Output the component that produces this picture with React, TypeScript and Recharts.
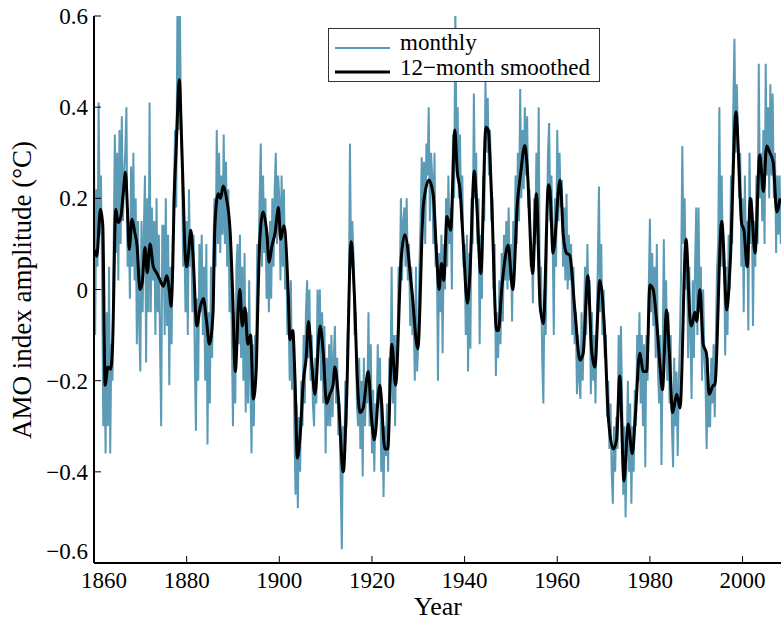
import { Line, LineChart, XAxis, YAxis } from "recharts";

// quarterly samples of the monthly AMO index, starting 1860.0
const MONTHLY_START = 1860;
const MONTHLY_STEP = 0.25;

const monthly1860s = [
  0.3, -0.1, 0.22, 0.05, 0.41, 0.12, 0.25, 0.02, -0.3, -0.12, -0.36, -0.05, -0.3, 0.05, -0.36, -0.12,
  -0.2, 0.1, 0.34, 0.08, 0.3, 0.02, 0.35, 0.1, 0.38, 0.15, 0.25, 0.3, 0.4, 0.05, 0.15, -0.02,
  0.27, 0.05, 0.3, 0.02, 0.2, -0.12, 0.15, -0.08,
];
const monthly1870s = [
  -0.18, 0.15, -0.05, 0.12, 0.25, -0.16, 0.2, -0.05, 0.41, -0.05, 0.18, 0.02, 0.15, -0.1, 0.2, -0.05,
  0.12, -0.12, -0.3, 0.14, 0.14, -0.1, 0.2, -0.08, 0.12, -0.21, 0.05, -0.12, 0.1, 0.22, 0.35, 0.18,
  0.6, 0.35, 0.65, 0.4, 0.28, 0.05, 0.12, -0.05,
];
const monthly1880s = [
  0.15, -0.1, 0.22, 0.05, 0.1, -0.05, 0.12, -0.15, -0.31, -0.02, -0.2, 0.1, -0.05, 0.12, -0.1, 0.05,
  -0.2, 0.1, -0.34, -0.05, -0.25, 0.05, -0.15, 0.08, 0.2, 0.05, 0.35, 0.1, 0.3, 0.08, 0.25, 0.12,
  0.34, 0.1, 0.28, 0.05, 0.22, -0.05, 0.1, -0.1,
];
const monthly1890s = [
  -0.3, -0.05, -0.25, 0.05, 0.1, -0.12, 0.12, -0.15, 0.05, -0.2, 0.08, -0.27, -0.05, -0.25, 0.02, -0.2,
  -0.36, -0.12, -0.3, -0.1, -0.15, 0.1, 0.05, 0.2, 0.32, 0.05, 0.25, 0.08, 0.2, -0.02, 0.12, -0.05,
  0.15, -0.02, 0.2, 0.05, 0.22, 0.3, 0.1, 0.25,
];
const monthly1900s = [
  0.2, 0.02, 0.25, 0.05, 0.22, 0.0, 0.08, -0.1, -0.05, -0.2, 0.02, -0.22, -0.1, -0.3, -0.45, -0.25,
  -0.48, -0.28, -0.4, -0.2, -0.3, -0.1, -0.25, -0.05, 0.02, -0.15, 0.0, -0.2, -0.1, -0.25, -0.3, -0.15,
  -0.25, 0.0, -0.12, 0.0, -0.2, -0.05, -0.25, -0.08,
];
const monthly1910s = [
  -0.36, -0.15, -0.3, -0.12, -0.3, -0.1, -0.28, -0.15, -0.08, -0.25, -0.15, -0.32, -0.25, -0.43, -0.57, -0.3,
  -0.4, -0.2, -0.3, -0.1, -0.05, 0.32, 0.05, 0.15, 0.08, -0.1, -0.05, -0.25, -0.3, -0.15, -0.35, -0.2,
  -0.41, -0.15, -0.3, -0.2, -0.25, -0.05, -0.3, -0.12,
];
const monthly1920s = [
  -0.36, -0.22, -0.4, -0.25, -0.3, -0.12, -0.25, -0.15, -0.4, -0.25, -0.455, -0.3, -0.365, -0.25, -0.4, -0.15,
  -0.2, 0.05, -0.25, -0.1, -0.3, -0.1, -0.15, 0.05, 0.0, 0.2, 0.02, 0.15, 0.18, 0.05, 0.2, 0.02,
  0.1, -0.08, 0.05, -0.1, -0.05, -0.2, 0.05, -0.18,
];
const monthly1930s = [
  -0.12, 0.05, 0.15, 0.29, 0.15, 0.28, 0.1, 0.32, 0.25, 0.4, 0.15, 0.3, 0.25, 0.1, 0.3, 0.05,
  0.1, -0.2, 0.08, -0.05, 0.12, -0.14, 0.1, 0.0, 0.2, 0.05, 0.25, 0.1, 0.18, 0.0, 0.34, 0.2,
  0.62, 0.3, 0.4, 0.2, 0.34, 0.15, 0.25, 0.05,
];
const monthly1940s = [
  0.1, -0.1, 0.12, -0.18, 0.08, -0.13, 0.2, 0.1, 0.43, 0.2, 0.3, 0.1, 0.2, -0.12, 0.12, -0.02,
  0.25, 0.15, 0.46, 0.3, 0.42, 0.25, 0.35, 0.15, 0.2, 0.0, 0.1, -0.19, -0.05, -0.15, 0.02, -0.12,
  0.08, -0.07, 0.12, 0.02, 0.15, 0.0, 0.18, 0.02,
];
const monthly1950s = [
  0.1, -0.07, 0.15, 0.05, 0.25, 0.1, 0.3, 0.15, 0.44, 0.2, 0.35, 0.22, 0.4, 0.25, 0.38, 0.18,
  0.22, 0.05, 0.1, -0.03, 0.2, 0.1, 0.3, 0.12, 0.4, -0.05, 0.05, -0.15, -0.25, 0.0, -0.1, 0.1,
  0.3, 0.365, 0.15, 0.25, 0.12, -0.1, 0.2, 0.05,
];
const monthly1960s = [
  0.35, 0.15, 0.3, 0.18, 0.24, 0.05, 0.18, 0.02, 0.21, 0.0, 0.12, 0.02, 0.1, -0.1, 0.05, -0.12,
  -0.05, -0.23, -0.1, -0.2, -0.24, -0.05, -0.2, -0.08, 0.05, -0.1, 0.1, -0.03, 0.02, -0.23, -0.05, -0.2,
  -0.1, -0.25, -0.08, 0.05, 0.226, -0.05, 0.1, -0.1,
];
const monthly1970s = [
  0.0, -0.15, -0.1, -0.28, -0.2, -0.35, -0.25, -0.4, -0.47, -0.3, -0.4, -0.28, -0.35, -0.1, -0.25, -0.08,
  -0.25, -0.45, -0.3, -0.5, -0.35, -0.2, -0.4, -0.25, -0.47, -0.3, -0.4, -0.22, -0.3, -0.1, -0.2, -0.05,
  -0.25, -0.1, -0.3, -0.12, -0.39, -0.1, -0.2, 0.0,
];
const monthly1980s = [
  0.155, -0.05, 0.08, -0.08, 0.05, -0.15, 0.1, -0.18, -0.25, -0.1, -0.385, -0.15, 0.11, -0.1, 0.02, -0.2,
  -0.05, -0.25, -0.1, -0.3, -0.39, -0.15, -0.3, -0.18, -0.365, -0.2, -0.1, 0.05, 0.315, 0.1, 0.2, 0.0,
  0.1, -0.15, 0.05, -0.1, -0.24, 0.02, -0.15, 0.05,
];
const monthly1990s = [
  0.18, -0.1, 0.18, -0.05, 0.05, -0.2, 0.0, -0.15, -0.2, -0.35, -0.15, -0.3, -0.3, -0.15, -0.25, -0.12,
  -0.28, -0.1, 0.05, 0.1, 0.4, 0.05, 0.25, 0.05, 0.1, -0.145, 0.05, -0.1, 0.12, 0.0, 0.25, 0.1,
  0.4, 0.55, 0.3, 0.45, 0.34, 0.2, 0.3, 0.05,
];
const monthly2000s = [
  0.2, -0.05, 0.25, 0.05, 0.15, -0.09, 0.3, 0.1, 0.2, -0.08, 0.15, 0.05, 0.25, 0.1, 0.495, 0.2,
  0.3, 0.15, 0.35, 0.1, 0.495, 0.25, 0.4, 0.2, 0.45, 0.25, 0.43, 0.2, 0.3, 0.08, 0.25, 0.12,
  0.25, 0.1,
];

// 12-month smoothed curve: [year, value]
const smoothedPoints: [number, number][] = [
  [1860.0, 0.088], [1860.6, 0.073], [1861.4, 0.176], [1861.9, 0.14], [1862.4, -0.21], [1863.0, -0.17],
  [1863.6, -0.175], [1864.0, -0.125], [1864.7, 0.176], [1865.2, 0.147], [1865.8, 0.16], [1866.3, 0.21],
  [1866.8, 0.257], [1867.2, 0.18], [1867.6, 0.088], [1868.2, 0.154], [1868.8, 0.125], [1869.3, 0.095],
  [1869.9, 0.0], [1870.4, 0.015], [1871.0, 0.092], [1871.5, 0.037], [1872.1, 0.1], [1872.8, 0.05],
  [1873.5, 0.037], [1874.2, 0.022], [1875.0, 0.007], [1875.7, 0.03], [1876.3, -0.007], [1876.6, -0.037],
  [1877.0, 0.05], [1877.3, 0.2], [1877.7, 0.3], [1878.0, 0.38], [1878.4, 0.46], [1878.9, 0.33],
  [1879.3, 0.2], [1879.6, 0.095], [1880.0, 0.05], [1880.4, 0.08], [1880.9, 0.13], [1881.4, 0.07],
  [1882.2, -0.08], [1882.9, -0.04], [1883.6, -0.02], [1884.3, -0.07], [1884.9, -0.12], [1885.7, -0.05],
  [1885.9, 0.05], [1886.1, 0.14], [1886.8, 0.21], [1887.3, 0.2], [1887.9, 0.227], [1888.6, 0.2],
  [1889.4, 0.125], [1889.9, 0.0], [1890.5, -0.18], [1891.2, -0.03], [1891.5, 0.0], [1892.0, -0.08],
  [1892.6, -0.04], [1893.2, -0.12], [1893.8, -0.1], [1894.4, -0.24], [1895.0, -0.18], [1895.4, -0.02],
  [1895.8, 0.11], [1896.5, 0.17], [1897.3, 0.125], [1897.8, 0.06], [1898.4, 0.095], [1899.1, 0.125],
  [1899.8, 0.18], [1900.3, 0.11], [1901.0, 0.14], [1901.9, 0.0], [1902.3, -0.11], [1902.9, -0.09],
  [1903.4, -0.2], [1903.9, -0.37], [1904.5, -0.32], [1905.2, -0.2], [1905.8, -0.15], [1906.3, -0.07],
  [1907.0, -0.16], [1907.7, -0.23], [1908.8, -0.08], [1909.5, -0.14], [1910.2, -0.25], [1910.9, -0.23],
  [1911.6, -0.21], [1912.0, -0.17], [1912.7, -0.23], [1913.8, -0.4], [1914.5, -0.25], [1915.5, 0.105],
  [1916.2, -0.01], [1916.9, -0.21], [1917.4, -0.27], [1918.1, -0.26], [1919.2, -0.18], [1919.9, -0.28],
  [1920.5, -0.33], [1921.7, -0.21], [1922.8, -0.35], [1923.4, -0.35], [1924.3, -0.12], [1925.1, -0.21],
  [1926.3, 0.066], [1927.1, 0.12], [1928.6, 0.0], [1929.9, -0.13], [1931.1, 0.185], [1932.3, 0.24],
  [1933.2, 0.21], [1934.0, 0.066], [1934.5, 0.0], [1935.0, 0.057], [1935.5, 0.02], [1936.2, 0.16],
  [1937.0, 0.13], [1937.9, 0.35], [1938.4, 0.26], [1939.0, 0.22], [1939.7, 0.105], [1940.6, -0.03],
  [1941.1, 0.026], [1942.1, 0.26], [1942.6, 0.19], [1943.5, 0.035], [1944.6, 0.356], [1945.1, 0.35],
  [1945.8, 0.21], [1946.9, -0.09], [1947.3, -0.09], [1948.0, 0.0], [1948.7, 0.066], [1949.4, 0.097],
  [1950.4, 0.0], [1951.4, 0.19], [1952.1, 0.255], [1953.0, 0.316], [1953.5, 0.27], [1954.7, 0.035],
  [1955.5, 0.21], [1956.3, -0.035], [1957.0, -0.075], [1958.1, 0.23], [1958.4, 0.22], [1959.1, 0.08],
  [1960.6, 0.24], [1961.3, 0.12], [1962.0, 0.08], [1962.7, 0.075], [1963.8, -0.045], [1964.9, -0.155],
  [1965.6, -0.14], [1966.6, 0.03], [1967.4, -0.13], [1968.1, -0.17], [1969.2, 0.02], [1970.1, -0.07],
  [1971.1, -0.29], [1972.1, -0.35], [1972.8, -0.33], [1973.5, -0.19], [1974.4, -0.42], [1975.3, -0.295],
  [1976.2, -0.36], [1976.9, -0.27], [1977.8, -0.14], [1978.6, -0.18], [1979.3, -0.18], [1980.0, 0.01],
  [1980.7, 0.0], [1981.5, -0.075], [1982.2, -0.17], [1982.7, -0.22], [1983.6, -0.045], [1984.2, -0.14],
  [1984.9, -0.27], [1985.8, -0.23], [1986.5, -0.26], [1987.8, 0.11], [1988.7, -0.07], [1989.0, -0.08],
  [1989.7, -0.05], [1990.1, -0.07], [1990.8, 0.0], [1991.5, -0.12], [1992.2, -0.14], [1992.8, -0.23],
  [1993.7, -0.21], [1994.0, -0.21], [1995.5, 0.15], [1996.6, -0.045], [1997.3, 0.05], [1998.6, 0.39],
  [1999.1, 0.3], [1999.8, 0.145], [2000.3, 0.13], [2001.0, 0.05], [2001.7, 0.2], [2002.7, 0.08],
  [2003.7, 0.295], [2004.5, 0.215], [2005.2, 0.315], [2005.9, 0.3], [2006.6, 0.28], [2007.4, 0.17],
  [2008.1, 0.2],
];

const xTicks = [1860, 1880, 1900, 1920, 1940, 1960, 1980, 2000];
const yTicks = [-0.6, -0.4, -0.2, 0, 0.2, 0.4, 0.6];

const MONTHLY_COLOR = "#5b9bb5";
const FONT = "'Liberation Serif', 'DejaVu Serif', 'Times New Roman', serif";
const PLOT_LEFT = 94;
const PLOT_TOP = 16;
const PLOT_BOTTOM = 563;
const TICK_LEN = 7;

const monthlyValues = [
  ...monthly1860s, ...monthly1870s, ...monthly1880s, ...monthly1890s, ...monthly1900s,
  ...monthly1910s, ...monthly1920s, ...monthly1930s, ...monthly1940s, ...monthly1950s,
  ...monthly1960s, ...monthly1970s, ...monthly1980s, ...monthly1990s, ...monthly2000s,
];

type Row = { year: number; monthly?: number; smoothed?: number };

function buildData(): Row[] {
  const rows = new Map<number, Row>();
  monthlyValues.forEach((v, i) => {
    const year = Math.round((MONTHLY_START + i * MONTHLY_STEP) * 1000) / 1000;
    rows.set(year, { year, monthly: v });
  });
  smoothedPoints.forEach(([year, v]) => {
    const r = rows.get(year);
    if (r) r.smoothed = v;
    else rows.set(year, { year, smoothed: v });
  });
  return Array.from(rows.values()).sort((a, b) => a.year - b.year);
}

const data = buildData();

const fmtY = (v: number) => (v === 0 ? "0" : v < 0 ? "\u2212" + Math.abs(v).toFixed(1) : v.toFixed(1));

const BottomTick = (props: any) => {
  const { x, payload } = props;
  // first label is nudged right, as in the original, so it clears the -0.6 label
  const dx = payload.value === xTicks[0] ? 10 : 0;
  return (
    <g>
      <line x1={x} x2={x} y1={PLOT_BOTTOM} y2={PLOT_BOTTOM - TICK_LEN} stroke="#000" strokeWidth={1} />
      <text x={x + dx} y={PLOT_BOTTOM + 25} textAnchor="middle" fontFamily={FONT} fontSize={23} fill="#000">
        {payload.value}
      </text>
    </g>
  );
};

const TopTick = (props: any) => {
  const { x } = props;
  return <line x1={x} x2={x} y1={PLOT_TOP} y2={PLOT_TOP + TICK_LEN} stroke="#000" strokeWidth={1} />;
};

const LeftTick = (props: any) => {
  const { y, payload } = props;
  // lowest label sits a little higher, clear of the x labels
  const dy = payload.value === yTicks[0] ? -12 : 0;
  return (
    <g>
      <line x1={PLOT_LEFT} x2={PLOT_LEFT + TICK_LEN} y1={y} y2={y} stroke="#000" strokeWidth={1} />
      <text x={PLOT_LEFT - 6} y={y + 8 + dy} textAnchor="end" fontFamily={FONT} fontSize={23} fill="#000">
        {fmtY(payload.value)}
      </text>
    </g>
  );
};

const XTitle = () => (
  <text x={438} y={615} textAnchor="middle" fontFamily={FONT} fontSize={26} fill="#000">
    Year
  </text>
);

const YTitle = () => (
  <text
    x={31}
    y={290}
    transform="rotate(-90 31 290)"
    textAnchor="middle"
    fontFamily={FONT}
    fontSize={27}
    fill="#000"
  >
    AMO index amplitude ({"\u00b0"}C)
  </text>
);

const LegendBox = () => (
  <svg width={272} height={54} style={{ position: "absolute", left: 328, top: 28, display: "block" }}>
    <rect x={0.5} y={0.5} width={271} height={53} fill="#fff" stroke="#333" strokeWidth={1} />
    <line x1={7} x2={62} y1={20} y2={20} stroke={MONTHLY_COLOR} strokeWidth={2} />
    <text x={72} y={22} fontFamily={FONT} fontSize={23} fill="#000">monthly</text>
    <line x1={7} x2={62} y1={44} y2={44} stroke="#000" strokeWidth={3} />
    <text x={72} y={47} fontFamily={FONT} fontSize={23} fill="#000">12{"\u2212"}month smoothed</text>
  </svg>
);

export default function App() {
  return (
    <div style={{ position: "absolute", left: 0, top: 0, width: 781, height: 620, overflow: "hidden", background: "#fff" }}>
      <LineChart width={781} height={620} data={data} margin={{ top: PLOT_TOP, right: 0, bottom: 0, left: 0 }}>
        <XAxis
          dataKey="year"
          type="number"
          domain={[1860, 2008.3]}
          allowDataOverflow
          ticks={xTicks}
          interval={0}
          height={620 - PLOT_BOTTOM}
          tickSize={0}
          tickLine={false}
          tick={<BottomTick />}
          axisLine={{ stroke: "#000", strokeWidth: 2 }}
          label={<XTitle />}
        />
        <XAxis
          xAxisId="top"
          orientation="top"
          dataKey="year"
          type="number"
          domain={[1860, 2008.3]}
          allowDataOverflow
          ticks={xTicks}
          interval={0}
          height={0}
          tickSize={0}
          tickLine={false}
          tick={<TopTick />}
          axisLine={{ stroke: "#000", strokeWidth: 2 }}
        />
        <YAxis
          type="number"
          domain={[-0.6, 0.6]}
          allowDataOverflow
          ticks={yTicks}
          interval={0}
          width={PLOT_LEFT}
          tickSize={0}
          tickLine={false}
          tick={<LeftTick />}
          axisLine={{ stroke: "#000", strokeWidth: 2 }}
          label={<YTitle />}
        />
        <Line
          type="linear"
          dataKey="monthly"
          stroke={MONTHLY_COLOR}
          strokeWidth={2}
          dot={false}
          connectNulls
          isAnimationActive={false}
        />
        <Line
          type="monotone"
          dataKey="smoothed"
          stroke="#000"
          strokeWidth={3}
          dot={false}
          connectNulls
          isAnimationActive={false}
        />
      </LineChart>
      <LegendBox />
    </div>
  );
}
